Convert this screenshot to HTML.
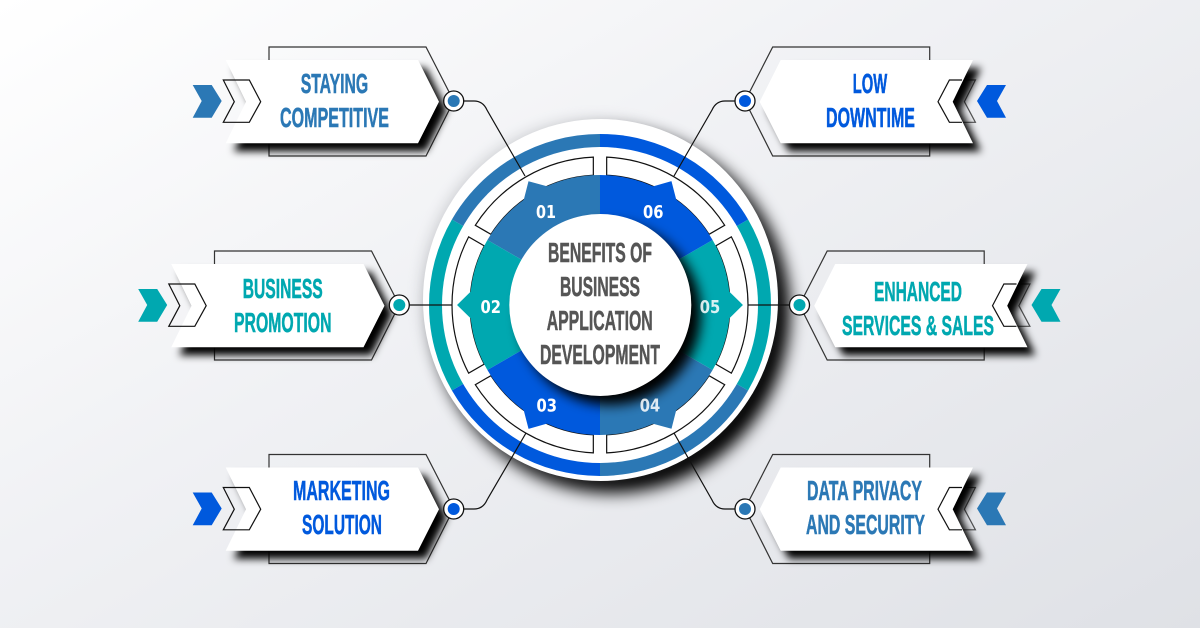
<!DOCTYPE html>
<html><head><meta charset="utf-8"><style>
html,body{margin:0;padding:0;width:1200px;height:628px;overflow:hidden}
body{background:linear-gradient(150deg,#ffffff 0%,#f0f1f4 42%,#dfe1e6 100%)}
svg{display:block}
.t{font-family:"Liberation Sans",sans-serif;font-weight:700;font-size:27.5px;stroke-width:.55px;paint-order:stroke}
.n{font-family:"DejaVu Sans","Liberation Sans",sans-serif;font-weight:700;font-size:18px;fill:#fff}
</style></head><body>
<svg width="1200" height="628" viewBox="0 0 1200 628" xmlns="http://www.w3.org/2000/svg">
<defs>
<filter id="b6" x="-30%" y="-30%" width="160%" height="160%"><feGaussianBlur stdDeviation="6"/></filter>
<filter id="b3" x="-30%" y="-30%" width="160%" height="160%"><feGaussianBlur stdDeviation="4"/></filter>
<filter id="b8" x="-30%" y="-30%" width="160%" height="160%"><feGaussianBlur stdDeviation="8"/></filter>
<polygon id="lab" points="225.7,60 418,60 439,101.7 418,143.3 225.7,143.3 246,101.7"/>
<polygon id="frame" points="269,47 426,47 453.7,101 426,156 269,156" fill="none" stroke="#333" stroke-width="1.2"/>
<polygon id="chev" points="192.7,85 211.7,85 221.7,101 211.7,117.7 192.7,117.7 201.7,101"/>
<polygon id="chev2" points="223.3,80 249.3,80 260.7,101.7 249.3,122.3 223.3,122.3 234.3,101.7" fill="none" stroke="#111" stroke-width="1.2"/>
<path id="band" d="M0 0L0 -171A171 171 0 0 0 -148.1 -85.5Z"/>
<path id="sec" d="M0 0L0 -130A130 130 0 0 0 -53.1 -118.7L-71.5 -123.8L-76.2 -105.3A130 130 0 0 0 -112.6 -65Z"/>
<path id="seg" d="M-6.67 -129.8V-147.85A148 148 0 0 0 -124.7 -79.7L-109.1 -70.7A130 130 0 0 1 -6.67 -129.8Z" fill="#fff" stroke="#111" stroke-width="1.2"/>
</defs>

<!-- label frames -->
<use href="#frame"/>
<use href="#frame" transform="translate(-54.5,204)"/>
<use href="#frame" transform="translate(0,407.5)"/>
<use href="#frame" transform="matrix(-1 0 0 1 1198.7 0)"/>
<use href="#frame" transform="matrix(-1 0 0 1 1253.2 204)"/>
<use href="#frame" transform="matrix(-1 0 0 1 1198.7 407.5)"/>

<!-- right chevron outlines under shadow -->
<use href="#chev2" transform="matrix(-1 0 0 1 1198.7 0)" opacity=".7"/>
<use href="#chev2" transform="matrix(-1 0 0 1 1253.2 204)" opacity=".7"/>
<use href="#chev2" transform="matrix(-1 0 0 1 1198.7 407.5)" opacity=".7"/>

<!-- label shadows -->
<g filter="url(#b3)" fill="#000">
<use href="#lab" transform="translate(8,8)"/>
<use href="#lab" transform="translate(-46.5,212)"/>
<use href="#lab" transform="translate(8,415.5)"/>
<use href="#lab" transform="matrix(-1 0 0 1 1206.7 8)"/>
<use href="#lab" transform="matrix(-1 0 0 1 1261.2 212)"/>
<use href="#lab" transform="matrix(-1 0 0 1 1206.7 415.5)"/>
</g>

<!-- label bodies -->
<g fill="#fff">
<use href="#lab"/>
<use href="#lab" transform="translate(-54.5,204)"/>
<use href="#lab" transform="translate(0,407.5)"/>
<use href="#lab" transform="matrix(-1 0 0 1 1198.7 0)"/>
<use href="#lab" transform="matrix(-1 0 0 1 1253.2 204)"/>
<use href="#lab" transform="matrix(-1 0 0 1 1198.7 407.5)"/>
</g>

<!-- chevrons -->
<use href="#chev" fill="#2b78b5"/>
<use href="#chev" fill="#00a8b0" transform="translate(-54.5,204)"/>
<use href="#chev" fill="#0059dd" transform="translate(0,407.5)"/>
<use href="#chev" fill="#0059dd" transform="matrix(-1 0 0 1 1198.7 0)"/>
<use href="#chev" fill="#00a8b0" transform="matrix(-1 0 0 1 1253.2 204)"/>
<use href="#chev" fill="#2b78b5" transform="matrix(-1 0 0 1 1198.7 407.5)"/>
<use href="#chev2"/>
<use href="#chev2" transform="translate(-54.5,204)"/>
<use href="#chev2" transform="translate(0,407.5)"/>
<g fill="none" stroke="#111" stroke-width="1.2">
<polyline points="962,80 949.4,80 938,101.7 949.4,122.3 962,122.3"/>
<polyline points="1016.5,284 1003.9,284 992.5,305.7 1003.9,326.3 1016.5,326.3"/>
<polyline points="962,487.5 949.4,487.5 938,509.2 949.4,529.8 962,529.8"/>
</g>

<!-- main disc -->
<ellipse cx="612" cy="312" rx="178" ry="181" fill="#000" filter="url(#b8)"/>
<ellipse cx="597" cy="298" rx="178" ry="181" fill="#9a9ca3" opacity=".3" filter="url(#b6)"/>
<ellipse cx="600.5" cy="300" rx="177.5" ry="181" fill="#fff"/>

<!-- outer band -->
<g transform="translate(600,305)">
<use href="#band" fill="#2b78b5"/>
<use href="#band" fill="#00a8b0" transform="rotate(-60)"/>
<use href="#band" fill="#0059dd" transform="rotate(-120)"/>
<use href="#band" fill="#2b78b5" transform="rotate(-180)"/>
<use href="#band" fill="#00a8b0" transform="rotate(-240)"/>
<use href="#band" fill="#0059dd" transform="rotate(-300)"/>
<circle r="158" fill="#fff"/>
<use href="#seg"/>
<use href="#seg" transform="rotate(60)"/>
<use href="#seg" transform="rotate(120)"/>
<use href="#seg" transform="rotate(180)"/>
<use href="#seg" transform="rotate(240)"/>
<use href="#seg" transform="rotate(300)"/>
<use href="#sec" fill="#2b78b5"/>
<use href="#sec" fill="#00a8b0" transform="rotate(-60)"/>
<use href="#sec" fill="#0059dd" transform="rotate(-120)"/>
<use href="#sec" fill="#2b78b5" transform="rotate(-180)"/>
<use href="#sec" fill="#00a8b0" transform="rotate(-240)"/>
<use href="#sec" fill="#0059dd" transform="rotate(-300)"/>
</g>

<!-- centre shadow -->
<circle cx="610" cy="314" r="91" fill="#000" filter="url(#b6)"/>

<!-- numbers -->
<text class="n" x="536" y="218" textLength="20" lengthAdjust="spacingAndGlyphs">01</text>
<text class="n" x="643" y="218" textLength="20.5" lengthAdjust="spacingAndGlyphs">06</text>
<text class="n" x="480.5" y="313" textLength="20.5" lengthAdjust="spacingAndGlyphs">02</text>
<text class="n" x="699.8" y="313" textLength="20.5" lengthAdjust="spacingAndGlyphs" opacity=".85">05</text>
<text class="n" x="536.5" y="411.7" textLength="20.5" lengthAdjust="spacingAndGlyphs">03</text>
<text class="n" x="639.8" y="411.7" textLength="20.5" lengthAdjust="spacingAndGlyphs" opacity=".85">04</text>

<!-- centre -->
<circle cx="600.3" cy="305" r="91" fill="#fff"/>
<g class="t" fill="#555" stroke="#555">
<text x="548" y="262" textLength="104" lengthAdjust="spacingAndGlyphs">BENEFITS OF</text>
<text x="560" y="296" textLength="80" lengthAdjust="spacingAndGlyphs">BUSINESS</text>
<text x="546.7" y="330" textLength="106" lengthAdjust="spacingAndGlyphs">APPLICATION</text>
<text x="540" y="364" textLength="120" lengthAdjust="spacingAndGlyphs">DEVELOPMENT</text>
</g>

<!-- connectors -->
<g fill="none" stroke="#111" stroke-width="1.2">
<path d="M464 101H474Q483 101 487 110L525 176"/>
<path d="M735 101H725Q716 101 712 110L674 176"/>
<path d="M464 509H474Q483 509 487 500L526 433"/>
<path d="M735 509H725Q716 509 712 500L674 433"/>
<path d="M409 305H452"/>
<path d="M790 305H748"/>
</g>

<!-- nodes -->
<g stroke="#111" stroke-width="1.3" fill="#fff">
<circle cx="453.7" cy="101" r="10"/>
<circle cx="399.3" cy="305" r="10"/>
<circle cx="453.7" cy="509" r="10"/>
<circle cx="745" cy="101" r="10"/>
<circle cx="799.5" cy="305" r="10"/>
<circle cx="745" cy="509" r="10"/>
</g>
<circle cx="453.7" cy="101" r="6" fill="#2b78b5"/>
<circle cx="399.3" cy="305" r="6" fill="#00a8b0"/>
<circle cx="453.7" cy="509" r="6" fill="#0059dd"/>
<circle cx="745" cy="101" r="6" fill="#0059dd"/>
<circle cx="799.5" cy="305" r="6" fill="#00a8b0"/>
<circle cx="745" cy="509" r="6" fill="#2b78b5"/>

<!-- label text -->
<g class="t">
<g fill="#2b78b5" stroke="#2b78b5">
<text x="300.7" y="93" textLength="67.5" lengthAdjust="spacingAndGlyphs">STAYING</text>
<text x="280" y="127" textLength="109" lengthAdjust="spacingAndGlyphs">COMPETITIVE</text>
<text x="807" y="500" textLength="115" lengthAdjust="spacingAndGlyphs">DATA PRIVACY</text>
<text x="806" y="534" textLength="119" lengthAdjust="spacingAndGlyphs">AND SECURITY</text>
</g>
<g fill="#00a8b0" stroke="#00a8b0">
<text x="242.7" y="298" textLength="80" lengthAdjust="spacingAndGlyphs">BUSINESS</text>
<text x="234" y="332" textLength="97.5" lengthAdjust="spacingAndGlyphs">PROMOTION</text>
<text x="874" y="301" textLength="88" lengthAdjust="spacingAndGlyphs">ENHANCED</text>
<text x="842" y="335" textLength="152" lengthAdjust="spacingAndGlyphs">SERVICES &amp; SALES</text>
</g>
<g fill="#0059dd" stroke="#0059dd">
<text x="293" y="500" textLength="97" lengthAdjust="spacingAndGlyphs">MARKETING</text>
<text x="302" y="534" textLength="80" lengthAdjust="spacingAndGlyphs">SOLUTION</text>
<text x="852.7" y="93" textLength="34.5" lengthAdjust="spacingAndGlyphs">LOW</text>
<text x="826" y="127" textLength="89" lengthAdjust="spacingAndGlyphs">DOWNTIME</text>
</g>
</g>
</svg>
</body></html>
